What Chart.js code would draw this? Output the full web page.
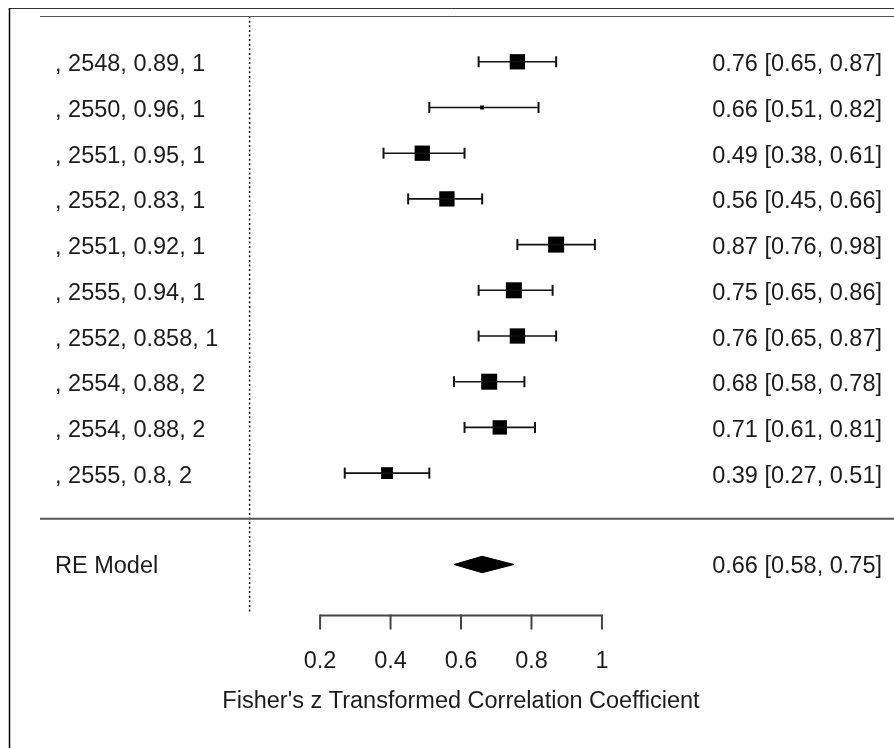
<!DOCTYPE html>
<html>
<head>
<meta charset="utf-8">
<script src="https://cdn.jsdelivr.net/npm/chart.js@4/dist/chart.umd.min.js"></script>
<style>
  html, body { margin: 0; padding: 0; background: #ffffff; overflow: hidden; }
  #wrap { position: relative; width: 894px; height: 748px; }
</style>
</head>
<body>
<div id="wrap"><canvas id="c"></canvas></div>
<script>
// ---- data ----
const studyLabels = [", 2548, 0.89, 1", ", 2550, 0.96, 1", ", 2551, 0.95, 1", ", 2552, 0.83, 1",
  ", 2551, 0.92, 1", ", 2555, 0.94, 1", ", 2552, 0.858, 1", ", 2554, 0.88, 2",
  ", 2554, 0.88, 2", ", 2555, 0.8, 2"];
const estimates = [0.76, 0.66, 0.49, 0.56, 0.87, 0.75, 0.76, 0.68, 0.71, 0.39];
const ciLower   = [0.65, 0.51, 0.38, 0.45, 0.76, 0.65, 0.65, 0.58, 0.61, 0.27];
const ciUpper   = [0.87, 0.82, 0.61, 0.66, 0.98, 0.86, 0.87, 0.78, 0.81, 0.51];
const weights   = [10.9, 6.0, 10.9, 10.9, 11.2, 11.2, 10.9, 11.2, 10.5, 9.4];
const summaryLabel = "RE Model";
const summaryEst = 0.66, summaryLower = 0.58, summaryUpper = 0.75;
const xTicks = [0.2, 0.4, 0.6, 0.8, 1];
const xTickLabels = ["0.2", "0.4", "0.6", "0.8", "1"];
const xTitle = "Fisher's z Transformed Correlation Coefficient";

// ---- layout helpers ----
const k = estimates.length;
const rows = estimates.map((_, i) => k - i);   // top study at row k
const summaryRow = -1;
const X_MIN = -0.595, X_MAX = 1.829;
const FONT = '23.5px "Liberation Sans", Arial, sans-serif';
const TXT = '#1c1c1c';

const fmt = v => v.toFixed(2);
const wMin = Math.min(...weights), wMax = Math.max(...weights);
const sideFor = w => 4 + (w - wMin) / (wMax - wMin) * 12;

const datasets = [];
datasets.push({ data: [{x: X_MIN, y: k + 1}, {x: X_MAX, y: k + 1}], showLine: true,
  borderColor: '#555', borderWidth: 2, pointRadius: 0 });
datasets.push({ data: [{x: X_MIN, y: 0}, {x: X_MAX, y: 0}], showLine: true,
  borderColor: '#555', borderWidth: 2, pointRadius: 0 });
datasets.push({ data: [{x: 0, y: k + 1}, {x: 0, y: -2.05}], showLine: true,
  borderColor: '#111', borderWidth: 1.5, borderDash: [2, 2.6], pointRadius: 0 });
estimates.forEach((e, i) => {
  datasets.push({ data: [{x: ciLower[i], y: rows[i]}, {x: ciUpper[i], y: rows[i]}], showLine: true,
    borderColor: '#111', borderWidth: 1.6,
    pointStyle: 'line', pointRotation: 90, pointRadius: 5.5,
    pointBorderColor: '#111', pointBorderWidth: 2, pointBackgroundColor: '#111' });
});
datasets.push({ data: estimates.map((e, i) => ({x: e, y: rows[i]})), showLine: false,
  pointStyle: 'rect', pointRadius: weights.map(w => sideFor(w) / Math.SQRT2),
  backgroundColor: '#000', borderWidth: 0, pointBorderWidth: 0 });
const dh = 0.18;
datasets.push({ data: [
    {x: summaryLower, y: summaryRow}, {x: summaryEst, y: summaryRow + dh},
    {x: summaryUpper, y: summaryRow}, {x: summaryEst, y: summaryRow - dh},
    {x: summaryLower, y: summaryRow}],
  showLine: true, fill: 'shape', backgroundColor: '#000', borderColor: '#000',
  borderWidth: 1, pointRadius: 0, tension: 0 });

const decor = {
  id: 'decor',
  beforeDraw(chart) {
    const ctx = chart.ctx;
    ctx.save();
    ctx.fillStyle = '#fff';
    ctx.fillRect(0, 0, chart.width, chart.height);
    ctx.strokeStyle = '#333';
    ctx.lineWidth = 1;
    ctx.beginPath(); ctx.moveTo(9, 8.5); ctx.lineTo(chart.width, 8.5); ctx.stroke();
    ctx.strokeStyle = '#000';
    ctx.lineWidth = 1.5;
    ctx.beginPath(); ctx.moveTo(9.5, 8); ctx.lineTo(9.5, chart.height); ctx.stroke();
    ctx.restore();
  },
  afterDraw(chart) {
    const ctx = chart.ctx, xs = chart.scales.x, ys = chart.scales.y, a = chart.chartArea;
    ctx.save();
    ctx.font = FONT;
    ctx.fillStyle = TXT;
    ctx.textBaseline = 'alphabetic';
    const leftX = a.left + 15, rightX = a.right - 12;
    studyLabels.forEach((lab, i) => {
      const y = ys.getPixelForValue(rows[i]) + 9.5;
      ctx.textAlign = 'left'; ctx.fillText(lab, leftX, y);
      ctx.textAlign = 'right';
      ctx.fillText(fmt(estimates[i]) + ' [' + fmt(ciLower[i]) + ', ' + fmt(ciUpper[i]) + ']', rightX, y);
    });
    const ys2 = ys.getPixelForValue(summaryRow) + 8.5;
    ctx.textAlign = 'left'; ctx.fillText(summaryLabel, leftX, ys2);
    ctx.textAlign = 'right';
    ctx.fillText(fmt(summaryEst) + ' [' + fmt(summaryLower) + ', ' + fmt(summaryUpper) + ']', rightX, ys2);

    const axY = Math.round(ys.getPixelForValue(-2.1)) + 0.5;
    const x0 = xs.getPixelForValue(xTicks[0]), x1 = xs.getPixelForValue(xTicks[xTicks.length - 1]);
    ctx.strokeStyle = '#444';
    ctx.lineWidth = 2;
    ctx.beginPath(); ctx.moveTo(x0, axY); ctx.lineTo(x1, axY); ctx.stroke();
    xTicks.forEach((t, i) => {
      const px = xs.getPixelForValue(t);
      ctx.beginPath(); ctx.moveTo(px, axY - 1); ctx.lineTo(px, axY + 14); ctx.stroke();
      ctx.textAlign = 'center';
      ctx.fillText(xTickLabels[i], px, axY + 52);
    });
    ctx.textAlign = 'center';
    ctx.fillText(xTitle, (x0 + x1) / 2, axY + 92);
    ctx.restore();
  }
};

new Chart(document.getElementById('c'), {
  type: 'scatter',
  data: { datasets },
  options: {
    responsive: true,
    maintainAspectRatio: false,
    animation: false,
    devicePixelRatio: 1,
    layout: { autoPadding: false, padding: { left: 40, right: 0, top: 16.1, bottom: 92.1 } },
    plugins: { legend: { display: false }, tooltip: { enabled: false } },
    scales: {
      x: { type: 'linear', display: false, min: X_MIN, max: X_MAX },
      y: { type: 'linear', display: false, min: -3, max: 11 }
    }
  },
  plugins: [decor]
});
</script>
</body>
</html>
